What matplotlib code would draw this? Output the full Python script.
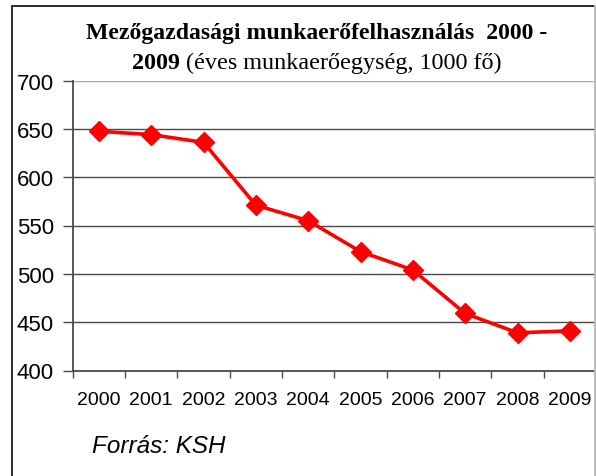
import numpy as np
import matplotlib
matplotlib.use("Agg")
from matplotlib import pyplot as plt
from matplotlib.patches import Rectangle

# data
years = ["2000", "2001", "2002", "2003", "2004", "2005", "2006", "2007", "2008", "2009"]
workforce = [647.5, 644, 636, 571, 555, 523, 504, 459, 439, 441]
y_ticks = [400, 450, 500, 550, 600, 650, 700]

title_line1 = "Mezőgazdasági munkaerőfelhasználás  2000 -"
title_bold2 = "2009"
title_rest2 = " (éves munkaerőegység, 1000 fő)"
source_note = "Forrás: KSH"

W, H = 596, 477
fig = plt.figure(figsize=(W / 100, H / 100), dpi=100)
ax = fig.add_axes([72.7 / W, 1 - 371.5 / H, 1 - 72.7 / W, (371.5 - 81.5) / H])

x = np.arange(len(years))
ax.plot(x, workforce, color="#ff0000", lw=2.6, marker="D", ms=9.8,
        mec="#ff0000", mfc="#ff0000", mew=1, zorder=3, clip_on=False)

ax.set_ylim(400, 700)
ax.set_xlim(-0.5, len(years) - 0.5)
ax.set_yticks(y_ticks)
ax.set_yticklabels([str(v) for v in y_ticks], fontsize=16, family="Liberation Sans")
ax.grid(axis="y", color="#4a4a4a", lw=1)
ax.yaxis.get_gridlines()[-1].set_color("#a8a8a8")
ax.set_axisbelow(True)

# category labels centred, tick marks on the boundaries
ax.set_xticks(np.arange(len(years) + 1) - 0.5)
ax.set_xticklabels([])
ax.set_xticks(x, minor=True)
ax.set_xticklabels(years, minor=True, fontsize=14, family="Liberation Sans")
ax.tick_params(axis="x", which="major", length=5, width=1, color="#4a4a4a", direction="out")
ax.tick_params(axis="x", which="minor", length=0, pad=15)
ax.tick_params(axis="y", length=7, width=1, color="#4a4a4a", pad=6.5)

for s in ["top", "right"]:
    ax.spines[s].set_visible(False)
for s in ["left", "bottom"]:
    ax.spines[s].set_color("#4a4a4a")
    ax.spines[s].set_linewidth(1.3)

# chart frame (bottom edge falls outside the image)
fig.patches.append(Rectangle((12 / W, -0.05), (595 - 12) / W, 1.05 - 6.7 / H,
                             transform=fig.transFigure, fill=False,
                             edgecolor="#2a2a2a", lw=1.4, zorder=0))
fig.add_artist(plt.Line2D([595 / W, 595 / W], [0, 1 - 6.7 / H], transform=fig.transFigure,
                          color="#c0c0c0", lw=1.4))

# title
cx = 316.5 / W
fig.text(cx, 1 - 39.3 / H, title_line1, ha="center", va="baseline",
         fontsize=17.1, fontweight="bold", family="Liberation Serif")
t1 = fig.text(0, 1 - 69 / H, title_bold2, ha="left", va="baseline",
              fontsize=17.4, fontweight="bold", family="Liberation Serif")
t2 = fig.text(0, 1 - 69 / H, title_rest2, ha="left", va="baseline",
              fontsize=17.4, family="Liberation Serif")
fig.canvas.draw()
r = fig.canvas.get_renderer()
w1 = t1.get_window_extent(r).width
w2 = t2.get_window_extent(r).width
x0 = cx * W - (w1 + w2) / 2
t1.set_x(x0 / W)
t2.set_x((x0 + w1) / W)

fig.text(92 / W, 1 - 453 / H, source_note, ha="left", va="baseline",
         fontsize=17.5, style="italic", family="Liberation Sans")

fig.savefig("out.png", dpi=100)
